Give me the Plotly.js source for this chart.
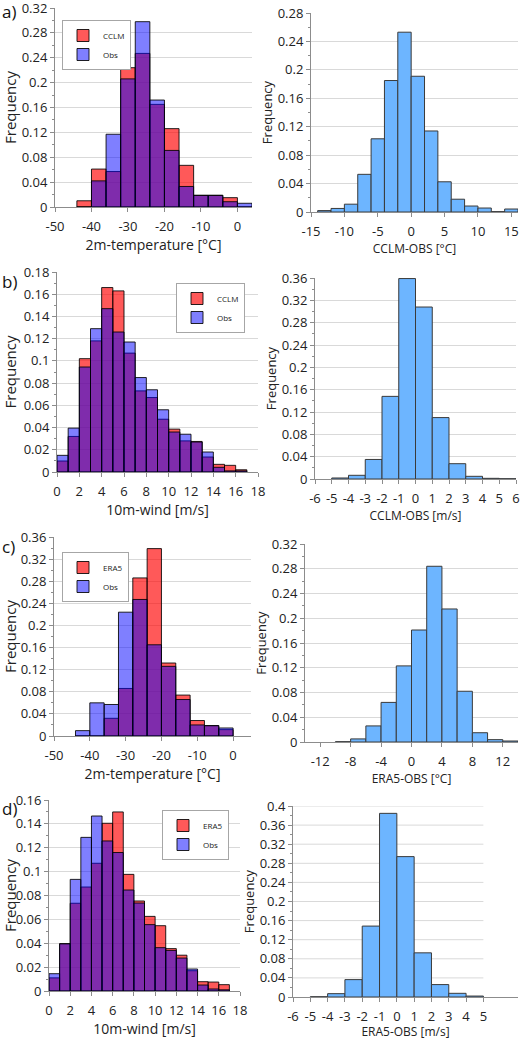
<!DOCTYPE html>
<html>
<head>
<meta charset="utf-8">
<script src="https://cdn.plot.ly/plotly-3.0.1.min.js"></script>
<style>html,body{margin:0;padding:0;background:#fff;}#chart{width:520px;height:1040px;}</style>
</head>
<body>
<div id="chart"></div>
<script>
// ---------- DATA ----------
// Panel a: 2m-temperature histograms (bin centres, width 4)
const tempBinsA = [-42,-38,-34,-30,-26,-22,-18,-14,-10,-6,-2,2];
const cclmTemp  = [0.010,0.061,0.057,0.224,0.247,0.165,0.126,0.067,0.019,0.019,0.015,0];
const obsTempA  = [0,0.042,0.117,0.206,0.298,0.172,0.091,0.033,0.0185,0.0185,0.0085,0.006];
// Panel a right: CCLM-OBS temperature (bin centres, width 2)
const diffBinsA = [-13,-11,-9,-7,-5,-3,-1,1,3,5,7,9,11,13,15];
const cclmObsTemp = [0.002,0.005,0.011,0.053,0.103,0.185,0.253,0.191,0.114,0.0425,0.018,0.0084,0.0056,0.0005,0.0042];
// Panel b: 10m-wind histograms (width 1)
const windBinsB = [0.5,1.5,2.5,3.5,4.5,5.5,6.5,7.5,8.5,9.5,10.5,11.5,12.5,13.5,14.5,15.5,16.5];
const cclmWind  = [0.0099,0.032,0.102,0.118,0.166,0.163,0.107,0.073,0.067,0.0475,0.0386,0.028,0.0275,0.0135,0.0069,0.006,0.002];
const obsWindB  = [0.015,0.0395,0.0945,0.129,0.147,0.126,0.117,0.085,0.074,0.056,0.036,0.034,0.027,0.018,0.0042,0.001,0.001];
// Panel b right: CCLM-OBS wind (width 1)
const diffBinsB = [-4.5,-3.5,-2.5,-1.5,-0.5,0.5,1.5,2.5,3.5,4.5,5.5];
const cclmObsWind = [0.0018,0.0066,0.035,0.148,0.359,0.308,0.110,0.0274,0.0048,0.0012,0.0005];
// Panel c: 2m-temperature ERA5 vs Obs (width 4)
const tempBinsC = [-42,-38,-34,-30,-26,-22,-18,-14,-10,-6,-2];
const era5Temp  = [0,0,0.032,0.086,0.286,0.339,0.132,0.074,0.028,0.019,0.0115];
const obsTempC  = [0.0097,0.060,0.057,0.224,0.247,0.165,0.126,0.066,0.020,0.0185,0.0145];
// Panel c right: ERA5-OBS temperature (width 2)
const diffBinsC = [-9,-7,-5,-3,-1,1,3,5,7,9,11,13];
const era5ObsTemp = [0.0005,0.005,0.026,0.064,0.123,0.181,0.284,0.215,0.082,0.015,0.0038,0.0016];
// Panel d: 10m-wind ERA5 vs Obs (width 1)
const windBinsD = [0.5,1.5,2.5,3.5,4.5,5.5,6.5,7.5,8.5,9.5,10.5,11.5,12.5,13.5,14.5,15.5,16.5];
const era5Wind  = [0.011,0.0397,0.0735,0.0871,0.107,0.1405,0.150,0.0977,0.0754,0.0625,0.0547,0.0355,0.030,0.017,0.0078,0.0075,0.0053];
const obsWindD  = [0.0145,0.0395,0.0935,0.1287,0.1466,0.1257,0.116,0.0846,0.0737,0.0556,0.0363,0.034,0.0276,0.0184,0.005,0.0017,0.001];
// Panel d right: ERA5-OBS wind (width 1)
const diffBinsD = [-4.5,-3.5,-2.5,-1.5,-0.5,0.5,1.5,2.5,3.5,4.5];
const era5ObsWind = [0.0005,0.007,0.0364,0.1485,0.3846,0.294,0.0925,0.026,0.0077,0.002];

// Tick values
const yTicksA1 = [0,0.04,0.08,0.12,0.16,0.2,0.24,0.28,0.32];
const yTicksA2 = [0,0.04,0.08,0.12,0.16,0.2,0.24,0.28];
const yTicksB1 = [0,0.02,0.04,0.06,0.08,0.1,0.12,0.14,0.16,0.18];
const yTicksB2 = [0,0.04,0.08,0.12,0.16,0.2,0.24,0.28,0.32,0.36];
const yTicksC1 = [0,0.04,0.08,0.12,0.16,0.2,0.24,0.28,0.32,0.36];
const yTicksC2 = [0,0.04,0.08,0.12,0.16,0.2,0.24,0.28,0.32];
const yTicksD1 = [0,0.02,0.04,0.06,0.08,0.1,0.12,0.14,0.16];
const yTicksD2 = [0,0.04,0.08,0.12,0.16,0.2,0.24,0.28,0.32,0.36,0.4];
const xTicksTemp = [-50,-40,-30,-20,-10,0];
const xTicksA2 = [-15,-10,-5,0,5,10,15];
const xTicksWind = [0,2,4,6,8,10,12,14,16,18];
const xTicksB2 = [-6,-5,-4,-3,-2,-1,0,1,2,3,4,5,6];
const xTicksC2 = [-12,-8,-4,0,4,8,12];
const xTicksD2 = [-6,-5,-4,-3,-2,-1,0,1,2,3,4,5];

// ---------- STYLE / LAYOUT ----------
const W = 520, H = 1040;
const FONT = 'Open Sans, Noto Sans, sans-serif';
const RED = 'rgba(255,0,0,0.65)';
const BLUE = 'rgba(0,0,255,0.5)';
const LIGHT = '#6db5ff';
const EDGE = 'rgba(0,0,0,0.85)';
const AX = '#8c8c8c';
const GRID = '#d9d9d9';

function fmt(v){ return String(+v.toFixed(3)); }

const panels = [
  {id:'',  xpx:[55,252],  ypx:[8,207],   xr:[-50,4], yr:[0,0.32], xt:xTicksTemp, yt:yTicksA1, xtitle:'2m-temperature [°C]', left:true},
  {id:'2', xpx:[311,518], ypx:[13,212],  xr:[-15,16], yr:[0,0.28], xt:xTicksA2, yt:yTicksA2, xtitle:'CCLM-OBS [°C]', left:false},
  {id:'3', xpx:[57,258],  ypx:[272,472], xr:[0,18], yr:[0,0.18], xt:xTicksWind, yt:yTicksB1, xtitle:'10m-wind [m/s]', left:true},
  {id:'4', xpx:[315,516], ypx:[278,479], xr:[-6,6], yr:[0,0.36], xt:xTicksB2, yt:yTicksB2, xtitle:'CCLM-OBS [m/s]', left:false},
  {id:'5', xpx:[54,251],  ypx:[537,736], xr:[-50,5], yr:[0,0.36], xt:xTicksTemp, yt:yTicksC1, xtitle:'2m-temperature [°C]', left:true},
  {id:'6', xpx:[305,518], ypx:[544,742], xr:[-14,14], yr:[0,0.32], xt:xTicksC2, yt:yTicksC2, xtitle:'ERA5-OBS [°C]', left:false},
  {id:'7', xpx:[49,240],  ypx:[800,991], xr:[0,18], yr:[0,0.16], xt:xTicksWind, yt:yTicksD1, xtitle:'10m-wind [m/s]', left:true},
  {id:'8', xpx:[293,518], ypx:[806,997], xr:[-6,7], yr:[0,0.4], xt:xTicksD2, yt:yTicksD2, xtitle:'ERA5-OBS [m/s]', left:false, gridTo:5}
];

const layout = {
  width: W, height: H,
  margin: {l:0, r:0, t:0, b:0},
  paper_bgcolor: '#fff', plot_bgcolor: '#fff',
  font: {family: FONT, color: '#222', size: 13},
  barmode: 'overlay',
  showlegend: true,
  shapes: [],
  annotations: []
};

panels.forEach(p => {
  const xk = 'xaxis' + p.id, yk = 'yaxis' + p.id;
  const ystep = p.yt[1] - p.yt[0];
  layout[xk] = {
    domain: [p.xpx[0]/W, p.xpx[1]/W],
    anchor: 'y' + p.id,
    range: p.xr, fixedrange: true,
    tickmode: 'array', tickvals: p.xt, ticktext: p.xt.map(fmt),
    ticks: 'outside', ticklen: 4, tickcolor: AX, ticklabelstandoff: 3,
    ticklabeloverflow: 'allow',
    showline: true, linecolor: AX, linewidth: 1,
    showgrid: false, zeroline: false,
    tickfont: {size: 13, color: '#222'},
    title: {text: p.xtitle, font: {size: p.left ? 14 : 12, color: '#222'}, standoff: p.left ? 4 : 6}
  };
  layout[yk] = {
    domain: [1 - p.ypx[1]/H, 1 - p.ypx[0]/H],
    anchor: 'x' + p.id,
    range: p.yr, fixedrange: true,
    tickmode: 'array', tickvals: p.yt, ticktext: p.yt.map(fmt),
    ticks: 'outside', ticklen: 4, tickcolor: AX,
    ticklabeloverflow: 'allow',
    minor: {tickmode: 'linear', tick0: 0, dtick: ystep/2, ticks: 'outside', ticklen: 2, tickcolor: AX, showgrid: false},
    showline: true, linecolor: AX, linewidth: 1,
    showgrid: p.gridTo === undefined, gridcolor: GRID, gridwidth: 1, zeroline: false,
    tickfont: {size: 13, color: '#222'},
    title: {text: 'Frequency', font: {size: p.left ? 15 : 13, color: '#222'}, standoff: p.left ? 4 : 2}
  };
  if (p.gridTo !== undefined) {
    p.yt.filter(v => v > 0).forEach(v => {
      layout.shapes.push({type:'line', xref:'x'+p.id, yref:'y'+p.id, x0:p.xr[0], x1:p.gridTo, y0:v, y1:v,
        line:{color:GRID, width:1}, layer:'below'});
    });
  }
});

// Legends
const legBase = {bgcolor:'#fff', bordercolor:'#a6a6a6', borderwidth:1, font:{size:8, family:FONT, color:'#222'},
  xanchor:'left', yanchor:'top', itemwidth:30, tracegroupgap:0, traceorder:'normal'};
layout.legend  = Object.assign({}, legBase, {x:62/W,  y:1-20/H});
layout.legend2 = Object.assign({}, legBase, {x:176/W, y:1-283/H});
layout.legend3 = Object.assign({}, legBase, {x:62/W,  y:1-552/H});
layout.legend4 = Object.assign({}, legBase, {x:162/W, y:1-810/H});

// Panel letters
[['a)',12],['b)',282],['c)',546],['d)',808]].forEach(([t,y]) => {
  layout.annotations.push({text:t, xref:'paper', yref:'paper', x:0, y:1-y/H, xanchor:'left', yanchor:'middle',
    showarrow:false, font:{size:17, family:FONT, color:'#111'}});
});

function pairBar(x, y, w, name, color, xa, ya, leg) {
  return {type:'bar', x:x, y:y, width:w, name:name, xaxis:xa, yaxis:ya, legend:leg,
    marker:{color:color, line:{color:EDGE, width:1}}, hoverinfo:'x+y'};
}
function singleBar(x, y, w, xa, ya) {
  return {type:'bar', x:x, y:y, width:w, xaxis:xa, yaxis:ya, showlegend:false,
    marker:{color:LIGHT, line:{color:'#3a3a3a', width:1}}, hoverinfo:'x+y'};
}

const data = [
  pairBar(tempBinsA, cclmTemp, 4, 'CCLM', RED, 'x', 'y', 'legend'),
  pairBar(tempBinsA, obsTempA, 4, 'Obs', BLUE, 'x', 'y', 'legend'),
  singleBar(diffBinsA, cclmObsTemp, 2, 'x2', 'y2'),
  pairBar(windBinsB, cclmWind, 1, 'CCLM', RED, 'x3', 'y3', 'legend2'),
  pairBar(windBinsB, obsWindB, 1, 'Obs', BLUE, 'x3', 'y3', 'legend2'),
  singleBar(diffBinsB, cclmObsWind, 1, 'x4', 'y4'),
  pairBar(tempBinsC, era5Temp, 4, 'ERA5', RED, 'x5', 'y5', 'legend3'),
  pairBar(tempBinsC, obsTempC, 4, 'Obs', BLUE, 'x5', 'y5', 'legend3'),
  singleBar(diffBinsC, era5ObsTemp, 2, 'x6', 'y6'),
  pairBar(windBinsD, era5Wind, 1, 'ERA5', RED, 'x7', 'y7', 'legend4'),
  pairBar(windBinsD, obsWindD, 1, 'Obs', BLUE, 'x7', 'y7', 'legend4'),
  singleBar(diffBinsD, era5ObsWind, 1, 'x8', 'y8')
];

Plotly.newPlot('chart', data, layout, {staticPlot:true, displayModeBar:false});
</script>
</body>
</html>
